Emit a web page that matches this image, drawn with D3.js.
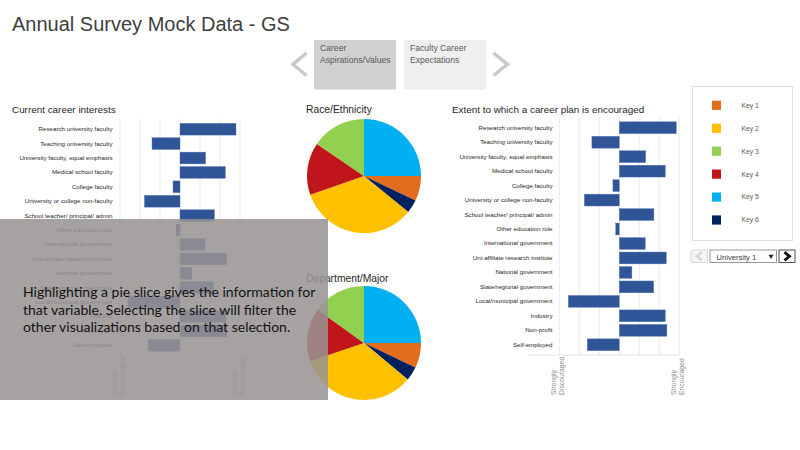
<!DOCTYPE html>
<html><head><meta charset="utf-8">
<script src="https://cdn.jsdelivr.net/npm/d3@7"></script>
<style>
html,body{margin:0;padding:0;background:#fff;}
svg{display:block;font-family:"Liberation Sans",Arial,sans-serif;}
</style></head>
<body><svg id="c" width="800" height="450"></svg>
<script>
// ---------- data ----------
const categories = [
  "Research university faculty","Teaching university faculty","University faculty, equal emphasis",
  "Medical school faculty","College faculty","University or college non-faculty",
  "School teacher/ principal/ admin","Other education role","International government",
  "Uni-affiliate research institute","National government","State/regional government",
  "Local/municipal government","Industry","Non-profit","Self-employed"
];
const interestValues   = [2.8,-1.4,1.28,2.27,-0.35,-1.78,1.72,-0.2,1.25,2.33,0.6,1.67,-2.6,2.3,2.35,-1.6];
const encouragedValues = [2.85,-1.37,1.32,2.3,-0.32,-1.75,1.73,-0.18,1.3,2.35,0.63,1.72,-2.55,2.3,2.38,-1.6];
const xTicks = [-3,-2,-1,0,1,2,3];
const endLabels = [["Strongly","Discouraged"],["Strongly","Encouraged"]];
const keys = ["Key 1","Key 2","Key 3","Key 4","Key 5","Key 6"];
const keyColors = ["#E36C1E","#FFC000","#92D050","#C0161B","#00B0F0","#002060"];
const sliceOrder = ["Key 5","Key 1","Key 6","Key 2","Key 4","Key 3"];
const raceShares = [25,7.1,3.8,33.8,14.9,15.5];
const deptShares = [25,7.1,4.0,33.7,15.1,15.1];
const navTabs = [["Career","Aspirations/Values"],["Faculty Career","Expectations"]];
const dropdownLabel = "University 1";
const overlayLines = [
  "Highlighting a pie slice gives the information for",
  "that variable. Selecting the slice will filter the",
  "other visualizations based on that selection."
];

const svg = d3.select("#c");
const colorOf = d3.scaleOrdinal().domain(keys).range(keyColors);

// ---------- header ----------
svg.append("text").attr("x",12).attr("y",31).attr("font-size",20).attr("fill","#404040")
  .text("Annual Survey Mock Data - GS");

// nav
const chev = (pts,col,w)=>svg.append("path").attr("d",d3.line()(pts)).attr("fill","none")
  .attr("stroke",col).attr("stroke-width",w).attr("stroke-linecap","butt");
chev([[306.5,53],[293,64.3],[306.5,75.5]],"#c9c9c9",3.5);
chev([[493.5,53],[507.5,64.3],[493.5,75.5]],"#c9c9c9",3.5);
const tabX = [314,404], tabFill = ["#d0d0d0","#efefef"];
navTabs.forEach((t,i)=>{
  svg.append("rect").attr("x",tabX[i]).attr("y",40).attr("width",82).attr("height",49.5).attr("fill",tabFill[i]);
  t.forEach((ln,j)=>svg.append("text").attr("x",tabX[i]+6).attr("y",51+j*11.5)
    .attr("font-size",8.6).attr("fill","#595959").text(ln));
});

// ---------- bar charts ----------
function barChart(vals, title, titleX, x0, x1, y0, y1, labelRight, axisLeft){
  const x = d3.scaleLinear().domain([-3,3]).range([x0,x1]);
  const y = d3.scaleBand().domain(categories).range([y0,y1]).paddingInner(0.18).paddingOuter(0.09);
  const g = svg.append("g");
  g.append("text").attr("x",titleX).attr("y",113).attr("font-size",9.9).attr("fill","#262626").text(title);
  g.selectAll("line.grid").data(xTicks).join("line").attr("class","grid")
    .attr("x1",d=>x(d)).attr("x2",d=>x(d)).attr("y1",y0-3).attr("y2",355)
    .attr("stroke","#e6e6e6").attr("stroke-width",0.8);
  g.append("line").attr("x1",axisLeft).attr("x2",x(3)+1).attr("y1",355).attr("y2",355)
    .attr("stroke","#d9d9d9").attr("stroke-width",0.8);
  g.selectAll("rect.bar").data(vals).join("rect").attr("class","bar")
    .attr("x",d=>x(Math.min(0,d))).attr("width",d=>Math.abs(x(d)-x(0)))
    .attr("y",(d,i)=>y(categories[i])).attr("height",y.bandwidth())
    .attr("fill","#2F5597").attr("stroke","#5a7dbd").attr("stroke-width",0.4);
  const ax = g.append("g").attr("transform",`translate(${labelRight},0)`)
    .call(d3.axisLeft(y).tickSize(0).tickPadding(0));
  ax.select(".domain").remove();
  ax.selectAll("text").attr("font-size",6.2).attr("fill","#262626").attr("font-family","Liberation Sans, Arial");
  [-3,3].forEach((v,k)=>{
    endLabels[k].forEach((ln,j)=>{
      g.append("text").attr("transform",`translate(${x(v)-3.5+j*8.5},395) rotate(-90)`)
        .attr("font-size",6.8).attr("fill","#8c8c8c").text(ln);
    });
  });
}
barChart(interestValues,"Current career interests",12,120,240,122,352.5,112.5,89);
barChart(encouragedValues,"Extent to which a career plan is encouraged",452,559.3,679.3,120.5,352,552.5,528);

// ---------- pies ----------
const pie = d3.pie().sort(null).value(d=>d.v);
const arc = d3.arc().innerRadius(0).outerRadius(57);
function drawPie(shares, title, cx, cy, ty){
  svg.append("text").attr("x",306).attr("y",ty).attr("font-size",10.3).attr("fill","#262626").text(title);
  const data = sliceOrder.map((k,i)=>({k, v:shares[i]}));
  svg.append("g").attr("transform",`translate(${cx},${cy})`)
    .selectAll("path").data(pie(data)).join("path")
    .attr("d",arc).attr("fill",d=>colorOf(d.data.k));
}
drawPie(raceShares,"Race/Ethnicity",364,176,113);
drawPie(deptShares,"Department/Major",364,343,282);

// ---------- legend ----------
svg.append("rect").attr("x",692.5).attr("y",86.5).attr("width",100).attr("height",154)
  .attr("fill","#fff").attr("stroke","#dedede").attr("stroke-width",1);
const ly = d3.scalePoint().domain(keys).range([105.3,220]);
keys.forEach(k=>{
  svg.append("rect").attr("x",712).attr("y",ly(k)-4.6).attr("width",9).attr("height",9.2).attr("fill",colorOf(k));
  svg.append("text").attr("x",741.5).attr("y",ly(k)+2.4).attr("font-size",6.8).attr("fill","#595959").text(k);
});
// dropdown row
svg.append("rect").attr("x",691).attr("y",250).attr("width",16.5).attr("height",12.5).attr("fill","#f4f4f4").attr("stroke","#cfcfcf").attr("stroke-width",0.8);
chev([[701.5,252.5],[697,256.3],[701.5,260]],"#d6d6d6",2.5);
svg.append("rect").attr("x",710).attr("y",250).attr("width",66.5).attr("height",12.5).attr("fill","#fff").attr("stroke","#7f7f7f").attr("stroke-width",0.8);
svg.append("text").attr("x",716.5).attr("y",259.6).attr("font-size",7.6).attr("fill","#404040").text(dropdownLabel);
svg.append("path").attr("d","M768.5,254.8 L773.5,254.8 L771,259 Z").attr("fill","#262626");
svg.append("rect").attr("x",779).attr("y",250).attr("width",16).attr("height",12.5).attr("fill","#fff").attr("stroke","#404040").attr("stroke-width",0.9);
chev([[784.5,252.2],[789.5,256.3],[784.5,260.4]],"#111",2.8);

// ---------- tooltip overlay ----------
svg.append("rect").attr("x",0).attr("y",219).attr("width",328).attr("height",181)
  .attr("fill","rgb(152,147,147)").attr("fill-opacity",0.86);
overlayLines.forEach((ln,i)=>{
  svg.append("text").attr("x",23).attr("y",297+i*17.6).attr("font-family","Lato, 'Open Sans', sans-serif")
    .attr("font-size",14.0).attr("fill","#111").text(ln);
});
</script></body></html>
